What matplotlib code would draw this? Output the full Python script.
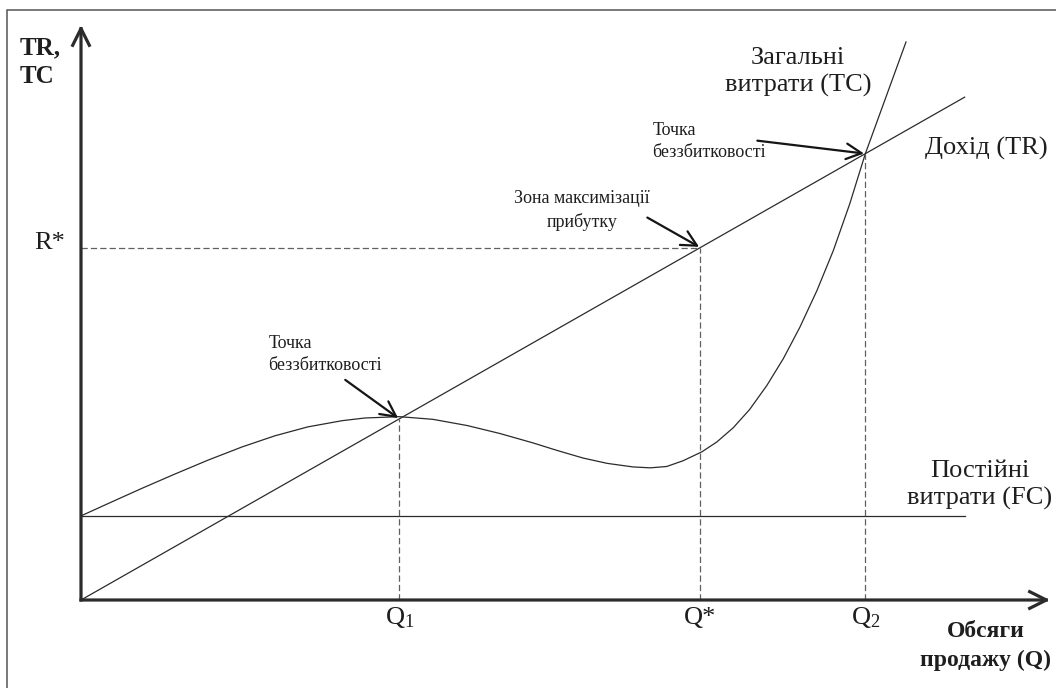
import numpy as np
import matplotlib.pyplot as plt
from matplotlib.patches import Rectangle

# values (Q on x, money on y)
q_tc = [0, 0.35, 0.78, 1.20, 1.62, 2.06, 2.48, 2.90, 3.34, 3.63, 4.07, 4.50,
        4.94, 5.36, 5.78, 6.09, 6.42, 6.73, 7.06, 7.28, 7.49, 7.70, 7.94, 8.13,
        8.34, 8.55, 8.77, 8.98, 9.19, 9.41, 9.62, 9.83, 10.03, 10.55]
c_tc = [1.89, 2.17, 2.51, 2.83, 3.14, 3.44, 3.69, 3.89, 4.03, 4.09, 4.12, 4.06,
        3.92, 3.74, 3.53, 3.36, 3.19, 3.07, 2.99, 2.97, 3.00, 3.13, 3.33, 3.55,
        3.87, 4.28, 4.82, 5.42, 6.12, 6.95, 7.85, 8.90, 10.03, 12.54]
q_tr = [0, 11.30]
r_tr = [0, 11.30]
q_fc = [0, 11.30]
c_fc = [1.89, 1.89]

q_marks = [4.07, 7.92, 10.03]        # Q1, Q*, Q2
r_marks = [4.07, 7.92, 10.03]        # TR at those volumes
q_labels = ['Q$_1$', 'Q*', 'Q$_2$']
x_axis_end = 12.39
y_axis_end = 12.92

plt.rcParams['font.family'] = ['Liberation Serif', 'DejaVu Serif']
plt.rcParams['mathtext.fontset'] = 'custom'
plt.rcParams['mathtext.rm'] = 'Liberation Serif'
plt.rcParams['mathtext.it'] = 'Liberation Serif'

dark = '#2b2b2b'
txt = '#1e1e1e'

fig = plt.figure(figsize=(10.56, 6.88), dpi=100)
ax = fig.add_axes([0, 0, 1, 1])
ax.set_xlim(-81 / 78.2, (1056 - 81) / 78.2)
ax.set_ylim((600 - 688) / 44.5, 600 / 44.5)
ax.axis('off')

# outer frame (cut at right/bottom)
fig.patches.append(Rectangle((7 / 1056, -0.1), 1.2, 1.1 - 10 / 688, fill=False,
                             edgecolor='#555555', lw=1.1, transform=fig.transFigure))

# curves
ax.plot(q_tc, c_tc, color=dark, lw=0.9, solid_joinstyle='round')
ax.plot(q_tr, r_tr, color=dark, lw=0.9)
ax.plot(q_fc, c_fc, color=dark, lw=0.9)

# dashed guides
dash = dict(color='#606060', lw=0.9, dashes=(5, 2.5))
for q, r in zip(q_marks, r_marks):
    ax.plot([q, q], [0, r], **dash)
ax.plot([0, q_marks[1]], [r_marks[1], r_marks[1]], **dash)

# axes with arrow heads
axis_arrow = dict(arrowstyle='->,head_length=0.6,head_width=0.3', lw=2.3,
                  color=dark, mutation_scale=20, shrinkA=0, shrinkB=0,
                  capstyle='projecting')
ax.annotate('', xy=(x_axis_end, 0), xytext=(0, 0), arrowprops=axis_arrow)
ax.annotate('', xy=(0, y_axis_end), xytext=(0, 0), arrowprops=axis_arrow)

# tick labels
for q, lab in zip(q_marks, q_labels):
    ax.annotate(lab, xy=(q, 0), xytext=(0, -18), textcoords='offset pixels',
                ha='center', va='center', fontsize=19, color=txt)
ax.annotate('R*', xy=(0, r_marks[1]), xytext=(-31, 5), textcoords='offset pixels',
            ha='center', va='center', fontsize=19, color=txt)

# axis titles
ax.annotate('TR,\nTC', xy=(0, y_axis_end), xytext=(-61, -37),
            textcoords='offset pixels', ha='left', va='center', fontsize=18,
            fontweight='bold', color=txt, linespacing=1.3)
ax.annotate('Обсяги\nпродажу (Q)', xy=(x_axis_end, 0), xytext=(-64, -46),
            textcoords='offset pixels', ha='center', va='center', fontsize=17,
            fontweight='bold', color=txt, linespacing=1.45)

# curve names
ax.annotate('Загальні\nвитрати (TC)', xy=(q_tc[-1], c_tc[-1]), xytext=(-108, -30),
            textcoords='offset pixels', ha='center', va='center', fontsize=19,
            color=txt, linespacing=1.3)
ax.annotate('Дохід (TR)', xy=(q_tr[-1], r_tr[-1]), xytext=(22, -51),
            textcoords='offset pixels', ha='center', va='center', fontsize=19,
            color=txt)
ax.annotate('Постійні\nвитрати (FC)', xy=(q_fc[-1], c_fc[-1]), xytext=(15, 31),
            textcoords='offset pixels', ha='center', va='center', fontsize=19,
            color=txt, linespacing=1.3)

# pointers
ptr = dict(arrowstyle='->,head_length=0.55,head_width=0.28', lw=1.6,
           color='#151515', mutation_scale=20, shrinkA=0, shrinkB=1)
notes = [
    ('Точка\nбеззбитковості', q_marks[0], r_marks[0], (-131, 64), 'left', (-54, 39)),
    ('Зона максимізації\nприбутку', q_marks[1], r_marks[1], (-118, 37), 'center', (-53, 30)),
    ('Точка\nбеззбитковості', q_marks[2], r_marks[2], (-213, 12), 'left', (-108, 13)),
]
for label, q, r, toff, ha, aoff in notes:
    ax.annotate(label, xy=(q, r), xytext=toff, textcoords='offset pixels',
                ha=ha, va='center', multialignment=ha, fontsize=13,
                color=txt, linespacing=1.4)
    ax.annotate('', xy=(q, r), xytext=aoff, textcoords='offset pixels',
                arrowprops=ptr)

plt.savefig('out.png', dpi=100)
